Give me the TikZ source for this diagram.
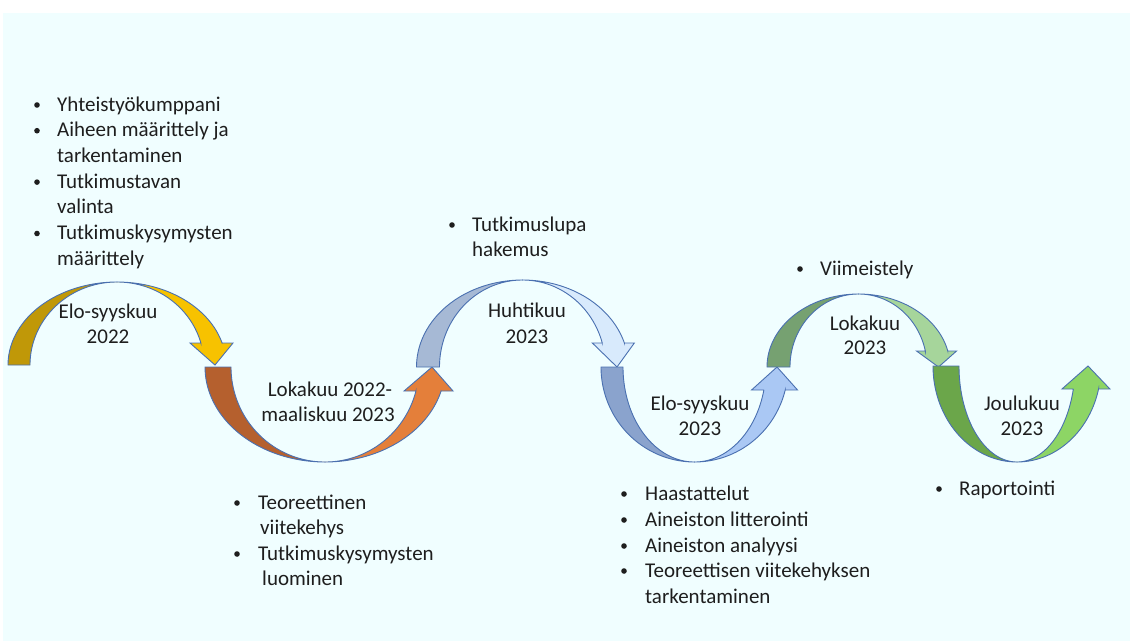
\documentclass[tikz,border=0pt]{standalone}
\usepackage{fontspec}
\setmainfont{Carlito}
\definecolor{bgc}{HTML}{F0FEFF}
\definecolor{edge}{HTML}{4A70B0}
\definecolor{txt}{HTML}{1E1E1E}
\definecolor{aD}{HTML}{C09808}
\definecolor{aL}{HTML}{F7C200}
\definecolor{bD}{HTML}{B5602E}
\definecolor{bL}{HTML}{E47F3A}
\definecolor{cD}{HTML}{A6B9D5}
\definecolor{cL}{HTML}{D8EAFC}
\definecolor{dD}{HTML}{8AA3CD}
\definecolor{dL}{HTML}{AAC8F4}
\definecolor{eD}{HTML}{76A171}
\definecolor{eL}{HTML}{A6D59B}
\definecolor{fD}{HTML}{6BA64A}
\definecolor{fL}{HTML}{8DD565}
% #1 cx, #2 base, #3 ry (signed), #4 rx outer, #5 rx inner, #6 barb offset (signed), #7 barb half width, #8 dark, #9 light
\newcommand\wavearc[9]{%
  \pgfmathsetmacro\tb{asin((#6)/(#3))}%
  \pgfmathsetmacro\rc{((#4)+(#5))/2}%
  \pgfmathsetmacro\xo{#1+(#4)*cos(\tb)}%
  \pgfmathsetmacro\xi{#1+(#5)*cos(\tb)}%
  \pgfmathsetmacro\xm{#1+\rc*cos(\tb)}%
  \pgfmathsetmacro\yb{#2+(#6)}%
  \filldraw[band, fill=#8] plot[domain=180:90, samples=50] ({#1+(#4)*cos(\x)},{#2+(#3)*sin(\x)})
     -- plot[domain=90:180, samples=50] ({#1+(#5)*cos(\x)},{#2+(#3)*sin(\x)}) -- cycle;
  \filldraw[band, fill=#9] plot[domain=90:\tb, samples=50] ({#1+(#4)*cos(\x)},{#2+(#3)*sin(\x)})
     -- (\xo,\yb) -- (\xm+#7,\yb) -- (#1+\rc,#2) -- (\xm-#7,\yb) -- (\xi,\yb)
     -- plot[domain=\tb:90, samples=50] ({#1+(#5)*cos(\x)},{#2+(#3)*sin(\x)}) -- cycle;
}
\begin{document}
\begin{tikzpicture}[x=1pt,y=-1pt,
  band/.style={draw=edge, line width=0.9pt, line join=miter},
  lt/.style={font=\fontsize{21}{26}\selectfont, text=txt, inner sep=0pt, anchor=base west},
  bu/.style={circle, fill=txt, inner sep=0pt, minimum size=5.6pt},
  lab/.style={font=\fontsize{21}{26}\selectfont, text=txt, inner sep=0pt, anchor=base}]
\useasboundingbox (0,0) rectangle (1130,641);
\fill[bgc] (3,13) rectangle (1130,641);

\wavearc{117}{365}{-83}{109}{87}{-22}{21.5}{aD}{aL}
\wavearc{325}{367}{95}{120}{94}{24}{24.5}{bD}{bL}
\wavearc{522.5}{367}{-87}{106}{83}{-24}{21}{cD}{cL}
\wavearc{694.5}{367}{95}{93.5}{71.5}{23}{23}{dD}{dL}
\wavearc{858.5}{367}{-73}{91.5}{68.5}{-16}{20}{eD}{eL}
\wavearc{1017}{366}{96}{84}{58}{23}{24}{fD}{fL}

% arc labels
\node[lab] (a1) at (108,318) {Elo-syyskuu};
\node[lab] (a2) at (108,343) {2022};
\node[lab] (b1) at (330,396) {Lokakuu 2022-};
\node[lab] (b2) at (328,421) {maaliskuu 2023};
\node[lab] (c1) at (527,317) {Huhtikuu};
\node[lab] (c2) at (527,343) {2023};
\node[lab] (d1) at (700,410) {Elo-syyskuu};
\node[lab] (d2) at (700,435) {2023};
\node[lab] (e1) at (865,330) {Lokakuu};
\node[lab] (e2) at (865,354) {2023};
\node[lab] (f1) at (1022,410) {Joulukuu};
\node[lab] (f2) at (1022,435) {2023};

% list 1 (bullet centre 6pt above baseline)
\node[bu] (p1) at (37,105) {};
\node[lt] (t1) at (57,111) {Yhteistyökumppani};
\node[bu] (p2) at (37,130.7) {};
\node[lt] (t2) at (57,136.7) {Aiheen määrittely ja};
\node[lt] (t3) at (57,162.4) {tarkentaminen};
\node[bu] (p4) at (37,182.1) {};
\node[lt] (t4) at (57,188.1) {Tutkimustavan};
\node[lt] (t5) at (57,213.8) {valinta};
\node[bu] (p6) at (37,233.5) {};
\node[lt] (t6) at (57,239.5) {Tutkimuskysymysten};
\node[lt] (t7) at (57,265.2) {määrittely};

% list 2
\node[bu] (q1) at (237,503) {};
\node[lt] (u1) at (258,509) {Teoreettinen};
\node[lt] (u2) at (260,534.5) {viitekehys};
\node[bu] (q3) at (237,554) {};
\node[lt] (u3) at (258,560) {Tutkimuskysymysten};
\node[lt] (u4) at (262,585.5) {luominen};

% list 3
\node[bu] (r1) at (452,225) {};
\node[lt] (v1) at (472,231) {Tutkimuslupa};
\node[lt] (v2) at (472,256.5) {hakemus};

% list 4
\node[bu] (s1) at (624,494) {};
\node[lt] (w1) at (645,500) {Haastattelut};
\node[bu] (s2) at (624,520) {};
\node[lt] (w2) at (645,526) {Aineiston litterointi};
\node[bu] (s3) at (624,546) {};
\node[lt] (w3) at (645,552) {Aineiston analyysi};
\node[bu] (s4) at (624,571) {};
\node[lt] (w4) at (645,577) {Teoreettisen viitekehyksen};
\node[lt] (w5) at (645,603) {tarkentaminen};

% list 5
\node[bu] (x1) at (800,269) {};
\node[lt] (y1) at (820,275) {Viimeistely};

% list 6
\node[bu] (x2) at (939,489) {};
\node[lt] (y2) at (959,495) {Raportointi};
\end{tikzpicture}
\end{document}
